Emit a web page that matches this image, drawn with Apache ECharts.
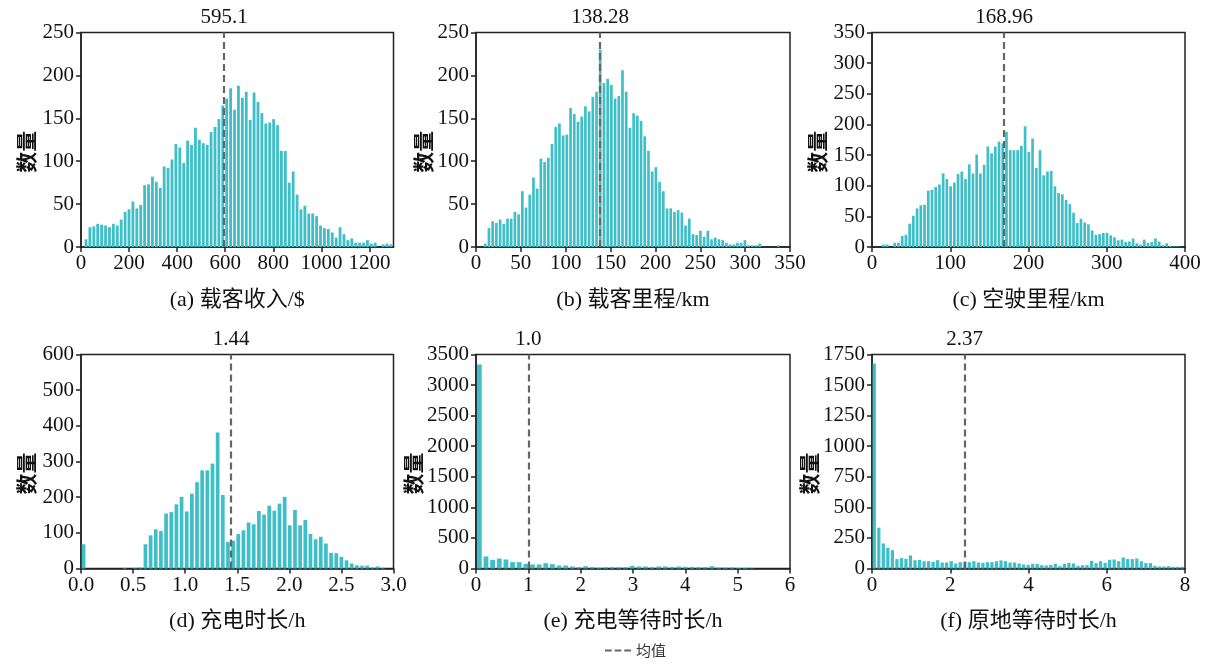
<!DOCTYPE html>
<html>
<head>
<meta charset="utf-8">
<script src="https://cdn.jsdelivr.net/npm/echarts@6/dist/echarts.min.js"></script>
<style>
  html, body { margin: 0; padding: 0; background: #fff; }
  #main { width: 1214px; height: 668px; }
</style>
</head>
<body>
<div id="main"></div>
<script>
// 六个分布直方图：每个面板一组计数，bin 起点 + bin 宽度
const xNames = ['(a) 载客收入/$', '(b) 载客里程/km', '(c) 空驶里程/km', '(d) 充电时长/h', '(e) 充电等待时长/h', '(f) 原地等待时长/h'];
const meanLabels = ['595.1', '138.28', '168.96', '1.44', '1.0', '2.37'];
const binStarts = [12.67, 8.23, 12.4, 0, 0, 0];
const binWidths = [16.26, 4.135, 4.76, 0.0495, 0.127, 0.1157];
const xMax = [1300, 350, 400, 3, 6, 8];
const xStep = [200, 50, 100, 0.5, 1, 2];
const yMax = [250, 250, 350, 600, 3500, 1750];
const yStep = [50, 50, 50, 100, 500, 250];

const incomeCounts = [9, 23, 24, 27, 26, 25, 23, 27, 25, 32, 41, 44, 53, 45, 49, 72, 73, 82, 76, 69,
  94, 92, 102, 120, 116, 98, 124, 119, 139, 125, 121, 119, 134, 140, 149, 165, 173, 185, 160, 188,
  174, 181, 148, 180, 169, 156, 144, 145, 149, 142, 112, 112, 75, 88, 61, 44, 48, 39, 39, 36,
  25, 22, 21, 17, 11, 23, 15, 8, 10, 5, 5, 5, 8, 4, 5, 0, 3, 4, 3];
const passengerKmCounts = [4, 22, 30, 28, 32, 27, 33, 33, 41, 38, 65, 46, 61, 81, 68, 103, 99, 104, 120, 140,
  144, 130, 131, 162, 155, 146, 152, 164, 158, 175, 181, 230, 191, 196, 189, 173, 176, 206, 181, 139,
  156, 153, 147, 129, 112, 88, 93, 76, 65, 45, 45, 41, 43, 40, 25, 33, 15, 14, 19, 12,
  19, 9, 11, 9, 8, 5, 3, 3, 5, 5, 8, 2, 2, 2, 4, 0, 0, 0, 0, 2];
const emptyKmCounts = [4, 4, 0, 7, 7, 18, 20, 38, 51, 63, 68, 69, 92, 93, 98, 102, 120, 111, 99, 105,
  119, 123, 111, 135, 120, 151, 120, 134, 164, 153, 164, 172, 169, 188, 158, 158, 158, 165, 197, 155,
  177, 129, 158, 117, 123, 124, 99, 88, 86, 77, 70, 56, 39, 46, 40, 37, 27, 20, 21, 23,
  23, 19, 16, 11, 12, 8, 9, 14, 6, 4, 12, 7, 8, 14, 9, 3, 6, 2, 1, 1];
const chargeTimeCounts = [68, 0, 0, 0, 0, 0, 0, 0, 2, 0, 2, 3, 68, 93, 110, 105, 154, 158, 180, 201,
  160, 210, 242, 275, 275, 294, 381, 206, 74, 78, 97, 107, 129, 124, 161, 151, 176, 162, 182, 201,
  121, 164, 121, 136, 97, 82, 89, 70, 44, 43, 33, 23, 14, 9, 8, 8, 3, 6, 2, 0];
const chargeWaitCounts = [3335, 197, 142, 164, 148, 104, 104, 77, 66, 66, 87, 71, 49, 49, 33, 22, 38, 22, 16, 22,
  22, 22, 22, 44, 33, 33, 22, 33, 33, 27, 33, 27, 27, 22, 22, 38, 16, 16, 16, 8,
  12, 5, 0, 0, 0, 0, 0, 0, 0, 0];
const idleWaitCounts = [1676, 334, 205, 170, 150, 77, 85, 79, 107, 68, 71, 60, 60, 55, 68, 49, 49, 60, 41, 52,
  52, 52, 60, 49, 46, 52, 52, 60, 66, 60, 49, 49, 41, 33, 30, 38, 38, 27, 25, 30,
  38, 19, 38, 46, 41, 22, 27, 27, 63, 44, 60, 46, 71, 74, 60, 90, 77, 77, 82, 60,
  44, 44, 22, 16, 16, 19, 14, 14, 14];

const allCounts = [incomeCounts, passengerKmCounts, emptyKmCounts, chargeTimeCounts, chargeWaitCounts, idleWaitCounts];

const serif = '"Liberation Serif", "Noto Sans CJK SC", serif';
const cjk = '"Noto Sans CJK SC", sans-serif';
const barColor = '#3ebfc7';
const ink = '#111';

// 网格位置（像素）
const colLeft = [81, 476, 872];
const colWidth = [312.5, 314, 313];
const rowTop = [32.5, 354.5];
const rowHeight = [214.5, 214];
const yNameGap = [44, 38, 44, 44, 40, 44];

let grids = [], xAxes = [], yAxes = [], series = [];
for (let i = 0; i < 6; i++) {
  let r = Math.floor(i / 3), c = i % 3;
  grids.push({
    left: colLeft[c], top: rowTop[r], width: colWidth[c], height: rowHeight[r],
    show: true, borderColor: '#222', borderWidth: 1.5, backgroundColor: 'transparent'
  });
  xAxes.push({
    gridIndex: i, type: 'value', min: 0, max: xMax[i], interval: xStep[i],
    name: xNames[i], nameLocation: 'middle', nameGap: 42,
    nameTextStyle: { fontFamily: serif, fontSize: 22, color: ink },
    axisLine: { show: true, onZero: false, lineStyle: { color: '#222', width: 1.5 } },
    axisTick: { show: true, length: 5, lineStyle: { color: '#222', width: 1.5 } },
    axisLabel: {
      fontFamily: serif, fontSize: 21, color: ink, margin: 6,
      showMaxLabel: i !== 0,
      formatter: i === 3 ? (v => v.toFixed(1)) : (v => String(v))
    },
    splitLine: { show: false }
  });
  yAxes.push({
    gridIndex: i, type: 'value', min: 0, max: yMax[i], interval: yStep[i],
    name: '数量', nameLocation: 'middle', nameGap: yNameGap[i],
    nameTextStyle: { fontFamily: cjk, fontSize: 21, fontWeight: 'bold', color: ink, padding: [0, 24, 0, 0] },
    axisLine: { show: true, lineStyle: { color: '#222', width: 1.5 } },
    axisTick: { show: true, length: 5, lineStyle: { color: '#222', width: 1.5 } },
    axisLabel: { fontFamily: serif, fontSize: 21, color: ink, margin: 7, formatter: v => String(v) },
    splitLine: { show: false }
  });
  let counts = allCounts[i];
  series.push({
    type: 'bar', xAxisIndex: i, yAxisIndex: i,
    data: counts.map((v, j) => [binStarts[i] + (j + 0.5) * binWidths[i], v]),
    barWidth: '72%',
    itemStyle: { color: barColor },
    markLine: {
      silent: true, symbol: 'none',
      lineStyle: { color: '#666', type: [7, 4], width: 2.2 },
      label: {
        position: 'end', formatter: meanLabels[i], distance: 5,
        fontFamily: serif, fontSize: 21, color: ink
      },
      data: [{ xAxis: parseFloat(meanLabels[i]) }]
    }
  });
}

// 图例用的空折线
series.push({
  type: 'line', name: '均值', xAxisIndex: 0, yAxisIndex: 0, data: [],
  symbol: 'none', itemStyle: { color: '#666' },
  lineStyle: { color: '#666', type: 'dashed', width: 1.5 }
});

const option = {
  animation: false,
  backgroundColor: '#fff',
  legend: {
    data: [{ name: '均值', icon: 'path://M0,0h7v2h-7z M10,0h7v2h-7z M20,0h7v2h-7z' }],
    bottom: 5, left: 600, selectedMode: false,
    itemWidth: 26, itemHeight: 2, itemGap: 8,
    textStyle: { fontFamily: cjk, fontSize: 15, color: '#333' }
  },
  grid: grids,
  xAxis: xAxes,
  yAxis: yAxes,
  series: series
};

let chart = echarts.init(document.getElementById('main'));
chart.setOption(option);
</script>
</body>
</html>
